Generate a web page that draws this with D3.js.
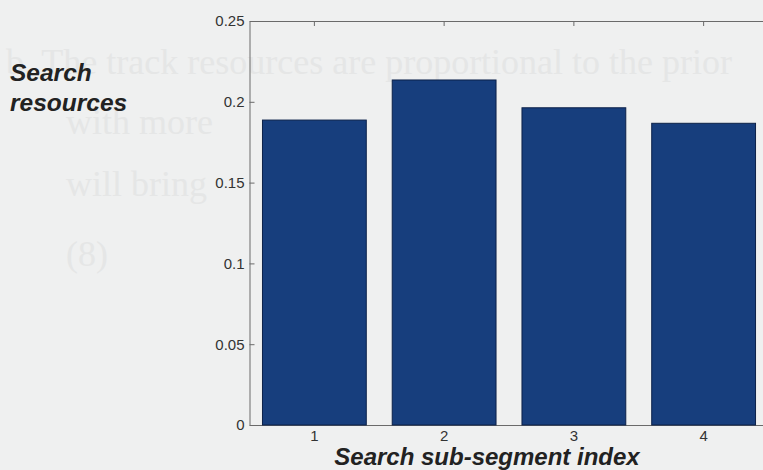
<!DOCTYPE html>
<html>
<head>
<meta charset="utf-8">
<script src="https://cdn.jsdelivr.net/npm/d3@7"></script>
<style>
  html, body { margin: 0; padding: 0; background: #eff0f0; }
  svg { display: block; }
</style>
</head>
<body>
<svg id="chart" width="763" height="470"></svg>
<script>
// Sub-segment indices and the share of search resources given to each
const categories = ["1", "2", "3", "4"];
const resources = [0.1887, 0.2135, 0.1963, 0.1867];
const yTicks = [0, 0.05, 0.1, 0.15, 0.2, 0.25];
const yTickLabels = ["0", "0.05", "0.1", "0.15", "0.2", "0.25"];

// Faint print from the facing page showing through the paper
const showThrough = [
  "b.   The track resources are proportional to the prior",
  "with more",
  "will bring",
  "(8)"
];

const W = 763, H = 470;
const plot = { left: 249.5, right: 768.5, top: 21, bottom: 425 };

const svg = d3.select("#chart");

svg.append("rect").attr("width", W).attr("height", H).attr("fill", "#eff0f0");

// show-through text
const ghost = svg.append("g")
  .attr("font-family", "'Liberation Serif', 'DejaVu Serif', serif")
  .attr("font-size", 36)
  .attr("fill", "#e5e6e6");
const ghostPos = [[6, 74], [66, 134], [66, 196], [66, 266]];
showThrough.forEach((t, i) => {
  ghost.append("text").attr("x", ghostPos[i][0]).attr("y", ghostPos[i][1]).text(t);
});

const x = d3.scaleBand()
  .domain(categories)
  .range([plot.left, plot.right])
  .paddingInner(0.2)
  .paddingOuter(0.1);

const y = d3.scaleLinear()
  .domain([0, 0.25])
  .range([plot.bottom, plot.top]);

const axisColor = "#6a6a6a";
const labelFont = "'Liberation Sans', Arial, sans-serif";

function styleAxis(g, showLabels) {
  g.select(".domain").attr("stroke", axisColor).attr("stroke-width", 1);
  g.selectAll(".tick line").attr("stroke", axisColor).attr("stroke-width", 1);
  g.selectAll(".tick text")
    .attr("fill", "#333")
    .attr("font-family", labelFont)
    .attr("font-size", 15)
    .style("display", showLabels ? null : "none");
}

// axes box with inward ticks
const gTop = svg.append("g")
  .attr("transform", `translate(0,${plot.top})`)
  .call(d3.axisTop(x).tickSizeInner(-5).tickSizeOuter(0));
styleAxis(gTop, false);

const gRight = svg.append("g")
  .attr("transform", `translate(${plot.right},0)`)
  .call(d3.axisRight(y).tickValues(yTicks).tickSizeInner(-5).tickSizeOuter(0));
styleAxis(gRight, false);

const gLeft = svg.append("g")
  .attr("transform", `translate(${plot.left},0)`)
  .call(d3.axisLeft(y)
    .tickValues(yTicks)
    .tickFormat((d, i) => yTickLabels[i])
    .tickSizeInner(-5)
    .tickSizeOuter(0)
    .tickPadding(5));
styleAxis(gLeft, true);

const gBottom = svg.append("g")
  .attr("transform", `translate(0,${plot.bottom})`)
  .call(d3.axisBottom(x).tickSizeInner(-5).tickSizeOuter(0).tickPadding(5));
styleAxis(gBottom, true);

// bars drawn over the lower axis, as in the original figure
svg.append("g")
  .selectAll("rect")
  .data(resources)
  .join("rect")
  .attr("x", (d, i) => x(categories[i]))
  .attr("y", d => y(d))
  .attr("width", x.bandwidth())
  .attr("height", d => y(0) - y(d))
  .attr("fill", "#173e7d")
  .attr("stroke", "#0c2149")
  .attr("stroke-width", 1);

// axis titles
const titleStyle = sel => sel
  .attr("font-family", labelFont)
  .attr("font-weight", "bold")
  .attr("font-style", "italic")
  .attr("font-size", 24)
  .attr("fill", "#222");

svg.append("text")
  .attr("x", 487)
  .attr("y", 465)
  .attr("text-anchor", "middle")
  .call(titleStyle)
  .text("Search sub-segment index");

const yTitle = svg.append("text").call(titleStyle).attr("font-size", 24.5);
yTitle.append("tspan").attr("x", 10).attr("y", 81).text("Search");
yTitle.append("tspan").attr("x", 10).attr("y", 111).text("resources");
</script>
</body>
</html>
